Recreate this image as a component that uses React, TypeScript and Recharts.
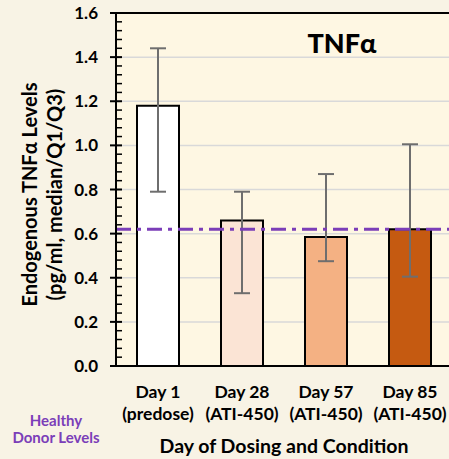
import React from 'react';
import { BarChart, Bar, XAxis, YAxis, CartesianGrid, ReferenceLine, ErrorBar, Cell } from 'recharts';

const categories = ['Day 1', 'Day 28', 'Day 57', 'Day 85'];
const conditions = ['(predose)', '(ATI-450)', '(ATI-450)', '(ATI-450)'];
const medians = [1.18, 0.66, 0.585, 0.62];
const q1 = [0.79, 0.33, 0.475, 0.405];
const q3 = [1.44, 0.79, 0.87, 1.005];
const barColors = ['#FFFFFF', '#FBE4D5', '#F4B183', '#C55A11'];
const healthyDonorLevel = 0.62;
const yMajorTicks = [0, 0.2, 0.4, 0.6, 0.8, 1.0, 1.2, 1.4, 1.6];
const yMinorStep = 0.04;
const yAllTicks = Array.from({ length: 41 }, (_, i) => Math.round(i * yMinorStep * 100) / 100);

const data = categories.map((c, i) => ({
  name: c,
  cond: conditions[i],
  median: medians[i],
  err: [medians[i] - q1[i], q3[i] - medians[i]],
}));

const FONT = 'Lato, "Open Sans", sans-serif';
const isMajor = (v: number) => yMajorTicks.some((m) => Math.abs(m - v) < 1e-6);

const YTick = (props: any) => {
  const { x, y, payload } = props;
  const v = payload.value as number;
  if (isMajor(v)) {
    return (
      <g>
        <line x1={x - 6} x2={x + 6} y1={y} y2={y} stroke="#000" strokeWidth={2} />
        <text x={x - 18} y={y} dy="0.36em" textAnchor="end" fontFamily={FONT} fontWeight={700} fontSize={17} fill="#000">
          {v.toFixed(1)}
        </text>
      </g>
    );
  }
  return <line x1={x} x2={x + 6} y1={y} y2={y} stroke="#000" strokeWidth={1.5} />;
};

const XTick = (props: any) => {
  const { x, y, payload, index } = props;
  return (
    <g>
      <text x={x} y={y + 32} textAnchor="middle" fontFamily={FONT} fontWeight={700} fontSize={17.5} fill="#000">
        {payload.value}
      </text>
      <text x={x} y={y + 54} textAnchor="middle" fontFamily={FONT} fontWeight={700} fontSize={17.5} fill="#000">
        {conditions[index]}
      </text>
    </g>
  );
};

const XTitle = (props: any) => {
  const { viewBox } = props;
  const cx = viewBox.x + viewBox.width / 2;
  return (
    <text x={cx} y={viewBox.y + 87} textAnchor="middle" fontFamily={FONT} fontWeight={700} fontSize={19.5} fill="#000">
      Day of Dosing and Condition
    </text>
  );
};

const YTitle = (props: any) => {
  const { viewBox } = props;
  const cy = viewBox.y + viewBox.height / 2 + 5;
  return (
    <g>
      <text x={37} y={cy} transform={`rotate(-90, 37, ${cy})`} textAnchor="middle" fontFamily={FONT} fontWeight={700} fontSize={20} fill="#000">
        Endogenous TNFα Levels
      </text>
      <text x={62} y={cy} transform={`rotate(-90, 62, ${cy})`} textAnchor="middle" fontFamily={FONT} fontWeight={700} fontSize={20} fill="#000">
        (pg/ml, median/Q1/Q3)
      </text>
    </g>
  );
};

export default function App() {
  return (
    <div style={{ position: 'fixed', left: 0, top: 0, width: 449, height: 459, overflow: 'hidden', background: '#F8F3E5' }}>
      <BarChart width={452} height={459} data={data} margin={{ top: 13, right: 0, bottom: 0, left: 0 }}>
        <CartesianGrid vertical={false} horizontalValues={yMajorTicks} stroke="#D9D9D9" strokeWidth={1.5} fill="#FEF7E3" fillOpacity={1} />
        <XAxis
          dataKey="name"
          height={93}
          tickLine={false}
          tickSize={0}
          tickMargin={0}
          axisLine={{ stroke: '#000', strokeWidth: 2 }}
          tick={<XTick />}
          interval={0}
          label={<XTitle />}
        />
        <YAxis
          width={116}
          domain={[0, 1.6]}
          ticks={yAllTicks}
          interval={0}
          tickLine={false}
          tickSize={0}
          tickMargin={0}
          axisLine={{ stroke: '#000', strokeWidth: 2 }}
          tick={<YTick />}
          label={<YTitle />}
          allowDataOverflow
        />
        <Bar dataKey="median" barSize={42} isAnimationActive={false}>
          {data.map((d, i) => (
            <Cell key={d.name} fill={barColors[i]} stroke="#000" strokeWidth={2} />
          ))}
          <ErrorBar dataKey="err" width={8} stroke="#6E6E6E" strokeWidth={2} direction="y" />
        </Bar>
        <ReferenceLine y={1.6} stroke="#000" strokeWidth={2} />
        <ReferenceLine y={healthyDonorLevel} stroke="#7B3EB8" strokeWidth={3} strokeDasharray="15 6 4 6" />
      </BarChart>
      <svg width={449} height={459} style={{ position: 'absolute', left: 0, top: 0, pointerEvents: 'none' }}>
        <text x={342} y={53} textAnchor="middle" fontFamily={FONT} fontWeight={900} fontSize={27} fill="#000">
          TNFα
        </text>
        <text x={56} y={426} textAnchor="middle" fontFamily={FONT} fontWeight={700} fontSize={15} fill="#7B3EB8">
          Healthy
        </text>
        <text x={56} y={443} textAnchor="middle" fontFamily={FONT} fontWeight={700} fontSize={15} fill="#7B3EB8">
          Donor Levels
        </text>
      </svg>
    </div>
  );
}
